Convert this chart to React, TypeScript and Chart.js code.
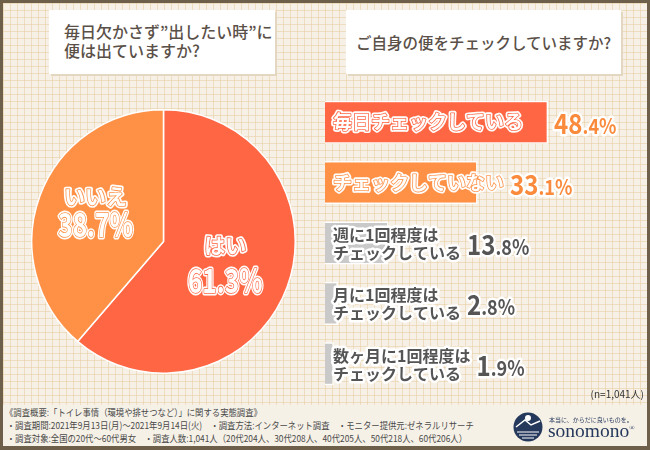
import React, { useEffect, useRef } from "react";
import { Chart, registerables } from "chart.js";
Chart.register(...registerables);

// ---- data ----
const pieCategories = ["はい", "いいえ"];
const pieValues = [61.3, 38.7];

const barCategories = [
  "毎日チェックしている",
  "チェックしていない",
  "週に1回程度は\nチェックしている",
  "月に1回程度は\nチェックしている",
  "数ヶ月に1回程度は\nチェックしている",
];
const barValues = [48.4, 33.1, 13.8, 2.8, 1.9];

const title1Lines = ["毎日欠かさず”出したい時”に", "便は出ていますか?"];
const title2 = "ご自身の便をチェックしていますか?";
const sampleNote = "(n=1,041人)";
const footerLines = [
  "《調査概要:「トイレ事情（環境や排せつなど）」に関する実態調査》",
  "・調査期間:2021年9月13日(月)～2021年9月14日(火)　・調査方法:インターネット調査　・モニター提供元:ゼネラルリサーチ",
  "・調査対象:全国の20代～60代男女　・調査人数:1,041人（20代204人、30代208人、40代205人、50代218人、60代206人）",
];

// ---- style ----
const FONT = '"Noto Sans CJK JP", "Noto Sans", sans-serif';
const RED = "#ff6644";
const ORANGE = "#ff9147";
const GRAY = "#c9c9c9";
const TEXT = "#5a5048";
const pieColors = [RED, ORANGE];
const barColors = [RED, ORANGE, GRAY, GRAY, GRAY];
const pieLabelRadius = [0.5, 0.55];
const pieLabelShift = [0, -5];
const pieCatDy = [-11, -7];
const pieValDy = [29, 26];

type Run = { text: string; font: string };

function drawRuns(
  ctx: CanvasRenderingContext2D,
  runs: Run[],
  x: number,
  y: number,
  align: "left" | "center",
  scaleX: number,
  fill: string,
  halo: string,
  edge?: string
) {
  ctx.save();
  ctx.textBaseline = "alphabetic";
  ctx.textAlign = "left";
  ctx.lineJoin = "round";
  const widths = runs.map((r) => {
    ctx.font = r.font;
    return ctx.measureText(r.text).width * scaleX;
  });
  const total = widths.reduce((a, b) => a + b, 0);
  const start = align === "center" ? x - total / 2 : x;
  const passes: Array<[string, number | null]> = [[halo, 5]];
  if (edge) passes.push([edge, 1.6]);
  passes.push([fill, null]);
  for (const [color, lw] of passes) {
    let cx = start;
    runs.forEach((r, i) => {
      ctx.save();
      ctx.font = r.font;
      ctx.translate(cx, y);
      ctx.scale(scaleX, 1);
      if (lw !== null) {
        ctx.strokeStyle = color;
        ctx.lineWidth = lw;
        ctx.strokeText(r.text, 0, 0);
      } else {
        ctx.fillStyle = color;
        ctx.fillText(r.text, 0, 0);
      }
      ctx.restore();
      cx += widths[i];
    });
  }
  ctx.restore();
  return total;
}

const pieLabelPlugin = {
  id: "pieLabels",
  afterDatasetsDraw(chart: any) {
    const ctx = chart.ctx as CanvasRenderingContext2D;
    const meta = chart.getDatasetMeta(0);
    meta.data.forEach((arc: any, i: number) => {
      const p = arc.getProps(["x", "y", "startAngle", "endAngle", "outerRadius"], true);
      const mid = (p.startAngle + p.endAngle) / 2;
      const r = p.outerRadius * pieLabelRadius[i];
      const x = p.x + Math.cos(mid) * r;
      const y = p.y + Math.sin(mid) * r + pieLabelShift[i];
      drawRuns(ctx, [{ text: pieCategories[i], font: `bold 21px ${FONT}` }], x, y + pieCatDy[i], "center", 1, "#fff", "#fff", pieColors[i]);
      drawRuns(ctx, [{ text: pieValues[i].toFixed(1) + "%", font: `bold 33px ${FONT}` }], x, y + pieValDy[i], "center", 0.74, "#fff", "#fff", pieColors[i]);
    });
  },
};

const barLabelPlugin = {
  id: "barLabels",
  afterDatasetsDraw(chart: any) {
    const ctx = chart.ctx as CanvasRenderingContext2D;
    const meta = chart.getDatasetMeta(0);
    meta.data.forEach((bar: any, i: number) => {
      const p = bar.getProps(["x", "y", "base"], true);
      const lines = barCategories[i].split("\n");
      const isColored = i < 2;
      const textX = p.base + 8;
      let textW = 0;
      if (lines.length === 1) {
        textW = drawRuns(ctx, [{ text: lines[0], font: `bold 19px ${FONT}` }], textX, p.y + 7, "left", 1, "#fff", "#fff", barColors[i]);
      } else {
        lines.forEach((ln, k) => {
          const w = drawRuns(ctx, [{ text: ln, font: `bold 16px ${FONT}` }], textX, p.y - 2 + k * 18, "left", 1, "#555555", "#fff");
          textW = Math.max(textW, w);
        });
      }
      const vx = Math.max(p.x, textX + textW) + 6;
      const s = barValues[i].toFixed(1);
      const dot = s.indexOf(".");
      drawRuns(
        ctx,
        [
          { text: s.slice(0, dot), font: `bold 28px ${FONT}` },
          { text: s.slice(dot) + "%", font: `bold 21px ${FONT}` },
        ],
        vx,
        p.y + 12,
        "left",
        0.86,
        isColored ? "#fa8a3c" : "#555555",
        "#fff"
      );
    });
  },
};

function PieChart() {
  const ref = useRef<HTMLCanvasElement>(null);
  useEffect(() => {
    const chart = new Chart(ref.current!, {
      type: "pie",
      data: {
        labels: pieCategories,
        datasets: [{ data: pieValues, backgroundColor: pieColors, borderColor: "#ffffff", borderWidth: 1.5 }],
      },
      options: {
        animation: false,
        responsive: false,
        maintainAspectRatio: false,
        layout: { padding: 0 },
        plugins: { legend: { display: false }, tooltip: { enabled: false } },
      },
      plugins: [pieLabelPlugin],
    } as any);
    return () => chart.destroy();
  }, []);
  return <canvas ref={ref} width={265} height={265} style={{ position: "absolute", left: 31, top: 109 }} />;
}

function BarChart() {
  const ref = useRef<HTMLCanvasElement>(null);
  useEffect(() => {
    const chart = new Chart(ref.current!, {
      type: "bar",
      data: {
        labels: barCategories.map((c) => c.replace("\n", "")),
        datasets: [
          {
            data: barValues,
            backgroundColor: barColors,
            borderColor: "#ffffff",
            borderWidth: 1.5,
            barPercentage: 0.712,
            categoryPercentage: 1,
          },
        ],
      },
      options: {
        indexAxis: "y",
        animation: false,
        responsive: false,
        maintainAspectRatio: false,
        layout: { padding: 0 },
        scales: {
          x: { display: false, min: 0, max: 70.5 },
          y: { display: false },
        },
        plugins: { legend: { display: false }, tooltip: { enabled: false } },
      },
      plugins: [barLabelPlugin],
    } as any);
    return () => chart.destroy();
  }, []);
  return <canvas ref={ref} width={325} height={302} style={{ position: "absolute", left: 325, top: 92 }} />;
}

function Logo() {
  return (
    <div style={{ position: "absolute", left: 513, top: 412 }}>
      <svg width={30} height={30} style={{ position: "absolute", left: 0, top: 0 }}>
        <circle cx={15} cy={15} r={14.5} fill="#25395c" />
        <path d="M3 15 L12 8 L18 13 L27 9" stroke="#fff" strokeWidth={1.5} fill="none" />
        <path d="M4 20 H26 M6 23 H24 M9 26 H21" stroke="#fff" strokeWidth={1} />
        <circle cx={15} cy={6} r={3} fill="#fff" />
      </svg>
      <div style={{ position: "absolute", left: 36, top: 3, fontSize: 6, whiteSpace: "nowrap", color: "#25395c", fontFamily: FONT }}>
        本当に、からだに良いものを。
      </div>
      <div style={{ position: "absolute", left: 35, top: 8, fontSize: 19.5, whiteSpace: "nowrap", color: "#25395c", fontFamily: '"Liberation Serif", serif' }}>
        sonomono<sup style={{ fontSize: 7 }}>®</sup>
      </div>
    </div>
  );
}

export default function App() {
  return (
    <div style={{ position: "absolute", left: 0, top: 0, width: 650, height: 450, background: "#6e5f4a", overflow: "hidden" }}>
      <div
        style={{
          position: "absolute",
          left: 3,
          top: 3,
          width: 644,
          height: 402,
          backgroundColor: "#f6f0e6",
          backgroundImage:
            "linear-gradient(to right, rgba(232,205,160,0.55) 1px, transparent 1px), linear-gradient(to bottom, rgba(232,205,160,0.55) 1px, transparent 1px)",
          backgroundSize: "7px 7px",
        }}
      />
      <div style={{ position: "absolute", left: 3, top: 405, width: 644, height: 41, background: "#f6f1e7" }} />

      <div style={{ position: "absolute", left: 49, top: 10, width: 226, height: 64, background: "#fff", boxShadow: "2px 2px 0 #e3d7c2" }}>
        <div style={{ position: "absolute", left: 15, top: 12, fontFamily: FONT, fontWeight: 500, fontSize: 16, lineHeight: "19px", color: TEXT, whiteSpace: "nowrap" }}>
          {title1Lines.map((l) => (
            <div key={l}>{l}</div>
          ))}
        </div>
      </div>
      <div style={{ position: "absolute", left: 346, top: 10, width: 275, height: 64, background: "#fff", boxShadow: "2px 2px 0 #e3d7c2" }}>
        <div style={{ position: "absolute", left: 0, width: 275, top: 22, textAlign: "center", fontFamily: FONT, fontWeight: 500, fontSize: 15.5, lineHeight: "20px", color: TEXT, whiteSpace: "nowrap" }}>
          {title2}
        </div>
      </div>

      <PieChart />
      <BarChart />

      <div style={{ position: "absolute", right: 6, top: 386, fontFamily: FONT, fontSize: 10, color: "#333", whiteSpace: "nowrap" }}>{sampleNote}</div>

      <div
        style={{
          position: "absolute",
          left: 5,
          top: 406,
          fontFamily: FONT,
          fontSize: 9.6,
          lineHeight: "13px",
          color: "#4a4a4a",
          whiteSpace: "nowrap",
          transform: "scaleX(0.87)",
          transformOrigin: "left top",
        }}
      >
        {footerLines.map((l, i) => (
          <div key={i} style={{ paddingLeft: i === 0 ? 0 : 2 }}>{l}</div>
        ))}
      </div>
      <Logo />
    </div>
  );
}
